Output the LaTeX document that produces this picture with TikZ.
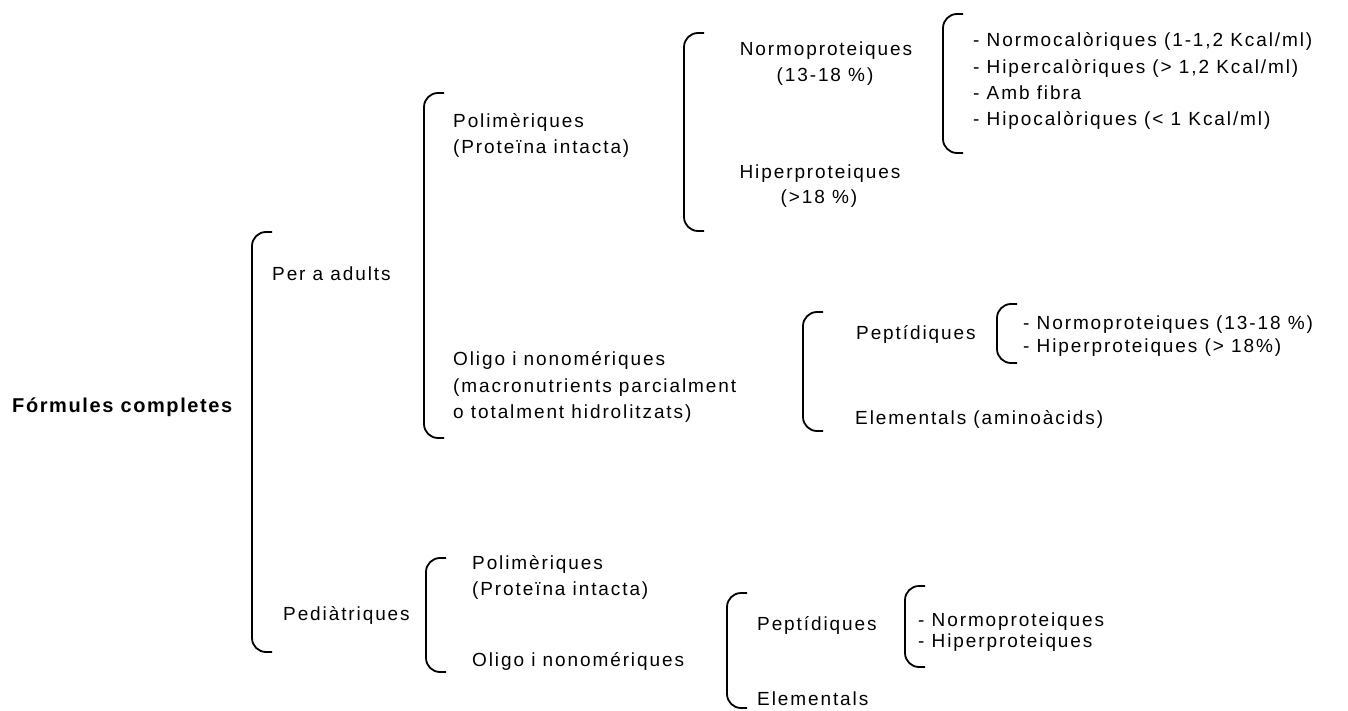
\documentclass[tikz,border=0pt]{standalone}
\usepackage{fontspec}
\setmainfont{Liberation Sans}[LetterSpace=10]
\begin{document}
\begin{tikzpicture}[x=1pt,y=-1pt,
  txt/.style={inner sep=0pt, anchor=base west, font=\fontsize{19}{26}\selectfont},
  ctxt/.style={txt, anchor=base},
  bold/.style={inner sep=0pt, anchor=base west, font=\fontsize{20}{24}\selectfont\bfseries\addfontfeatures{LetterSpace=8}},
  brk/.style={line width=1.8pt, rounded corners=14pt}]
\useasboundingbox (0,0) rectangle (1348,711);
% brackets
\newcommand{\brkt}[3]{\draw[brk] (#1+20,#2) -- (#1,#2) -- (#1,#3) -- (#1+20,#3);}
\brkt{252}{232}{652}
\brkt{424}{93}{438}
\brkt{684}{33}{231}
\brkt{943}{14}{153}
\brkt{803}{312}{431}
\brkt{997}{304}{363}
\brkt{426}{558}{672}
\brkt{727}{593}{708}
\brkt{905}{586}{667}
% texts
\node[bold] (fc) at (12,412) {Fórmules completes};
\node[txt] (adu) at (272,280) {Per a adults};
\node[txt] (pol1) at (453,128) {Polimèriques};
\node[txt] (pol2) at (453,154) {(Proteïna intacta)};
\node[ctxt] (nor1) at (826,56) {Normoproteiques};
\node[ctxt] (nor2) at (825,82) {(13-18 \%)};
\node[ctxt] (hip1) at (820,179) {Hiperproteiques};
\node[ctxt] (hip2) at (819,204) {(>18 \%)};
\node[txt] (l1) at (973,47) {- Normocalòriques (1-1,2 Kcal/ml)};
\node[txt] (l2) at (973,74) {- Hipercalòriques (> 1,2 Kcal/ml)};
\node[txt] (l3) at (973,100) {- Amb fibra};
\node[txt] (l4) at (973,126) {- Hipocalòriques (< 1 Kcal/ml)};
\node[txt] (oli1) at (453,365) {Oligo i nonomériques};
\node[txt] (oli2) at (453,392) {(macronutrients parcialment};
\node[txt] (oli3) at (453,418) {o totalment hidrolitzats)};
\node[txt] (pep) at (856,339) {Peptídiques};
\node[txt] (pn) at (1023,329) {- Normoproteiques (13-18 \%)};
\node[txt] (ph) at (1023,352) {- Hiperproteiques (> 18\%)};
\node[txt] (ele) at (855,424) {Elementals (aminoàcids)};
\node[txt] (ped) at (283,620) {Pediàtriques};
\node[txt] (ppol1) at (472,569) {Polimèriques};
\node[txt] (ppol2) at (472,595) {(Proteïna intacta)};
\node[txt] (poli) at (472,666) {Oligo i nonomériques};
\node[txt] (ppep) at (757,630) {Peptídiques};
\node[txt] (ppn) at (918,626) {- Normoproteiques};
\node[txt] (pph) at (918,647) {- Hiperproteiques};
\node[txt] (pele) at (757,705) {Elementals};
\end{tikzpicture}
\end{document}
